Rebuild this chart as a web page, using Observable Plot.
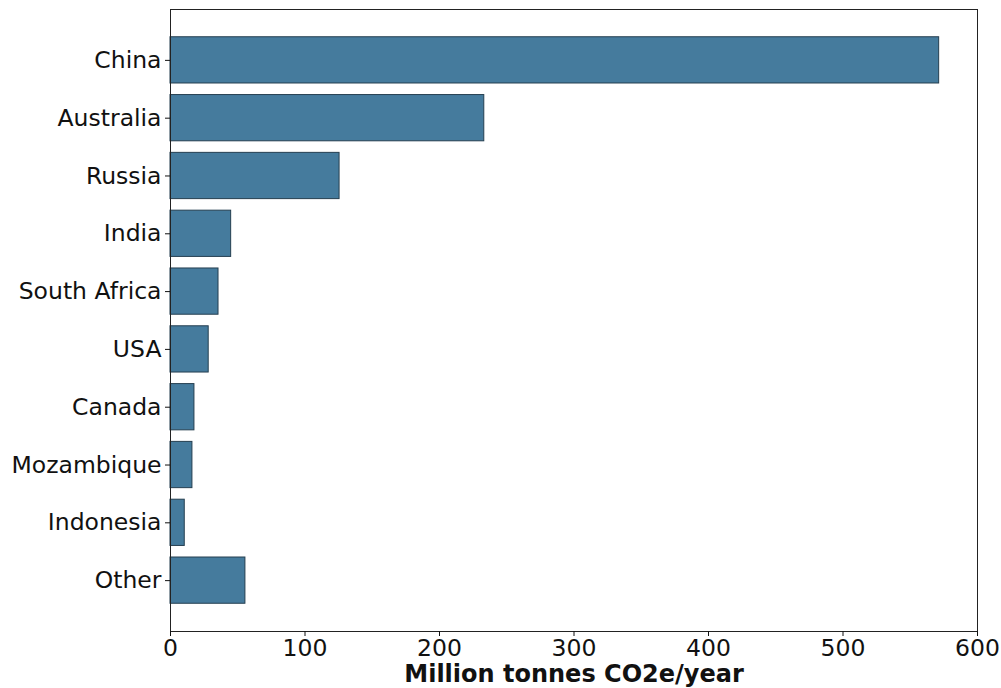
<!DOCTYPE html>
<html>
<head>
<meta charset="utf-8">
<script src="https://cdn.jsdelivr.net/npm/d3@7"></script>
<script src="https://cdn.jsdelivr.net/npm/@observablehq/plot@0.6"></script>
<style>
  html, body { margin: 0; padding: 0; background: #fff; }
  #chart svg [aria-label="x-axis label"] text,
  #chart svg [aria-label="x-axis label"] { font-weight: bold; font-size: 24px; }
</style>
</head>
<body>
<div id="chart"></div>
<script>
const countries = ["China", "Australia", "Russia", "India", "South Africa", "USA", "Canada", "Mozambique", "Indonesia", "Other"];
const emissions = [571.5, 233.3, 125.7, 45.1, 35.7, 28.4, 17.8, 16.3, 10.6, 55.7];
const xTicks = [0, 100, 200, 300, 400, 500, 600];
const xLabel = "Million tonnes CO2e/year";

const data = countries.map((c, i) => ({country: c, value: emissions[i]}));

const chart = Plot.plot({
  width: 1001,
  height: 688,
  marginLeft: 170,
  marginRight: 24,
  marginTop: 9,
  marginBottom: 57,
  style: {fontFamily: "DejaVu Sans, sans-serif", fontSize: "23.5px", color: "#111", background: "#fff"},
  x: {domain: [0, 600]},
  y: {domain: countries, paddingInner: 0.2, paddingOuter: 0.48, round: false},
  marks: [
    Plot.barX(data, {x: "value", y: "country", fill: "#457b9d", stroke: "#253f50", strokeWidth: 1}),
    Plot.frame({stroke: "#222", strokeWidth: 1}),
    Plot.axisX({ticks: xTicks, tickSize: 5, tickPadding: 3, tickFormat: d => String(d), label: xLabel, labelAnchor: "center", labelOffset: 50, labelArrow: "none", fontSize: 23.5}),
    Plot.axisY({tickSize: 5, tickPadding: 4, label: null, fontSize: 23.5})
  ]
});
document.getElementById("chart").appendChild(chart);
</script>
</body>
</html>
